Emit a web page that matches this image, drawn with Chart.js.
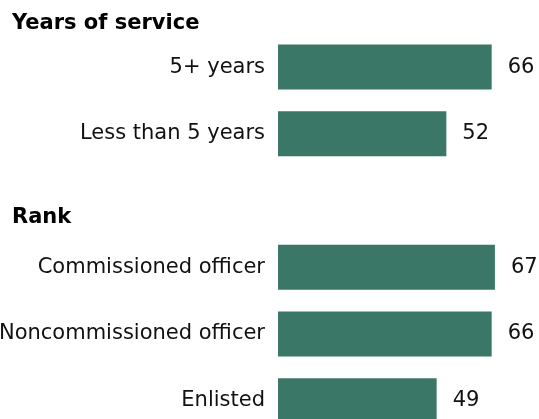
<!DOCTYPE html>
<html>
<head>
<meta charset="utf-8">
<script src="https://cdn.jsdelivr.net/npm/chart.js@4.4.1/dist/chart.umd.min.js"></script>
<style>
  html, body { margin: 0; padding: 0; background: #fff; overflow: hidden; }
  #wrap { position: relative; width: 539px; height: 419px; overflow: hidden; }
  #survey { position: absolute; left: 0; top: -33px; }
</style>
</head>
<body>
<div id="wrap">
  <canvas id="survey" width="539" height="467"></canvas>
</div>
<script>
// rows of the chart, group headings sit in their own empty rows
var labels = ["Years of service", "5+ years", "Less than 5 years", "Rank", "Commissioned officer", "Noncommissioned officer", "Enlisted"];
var values = [null, 66, 52, null, 67, 66, 49];
var headings = [0, 3];

var barColor = "#3a7767";
var fontFamily = "'DejaVu Sans', Verdana, sans-serif";

// bold group headings, left aligned, sitting low in their row
var headingPlugin = {
    id: "headings",
    afterDraw: function (chart) {
        var ctx = chart.ctx;
        var yScale = chart.scales.y;
        var drop = [28.5, 22.5];
        ctx.save();
        ctx.font = "bold 21px " + fontFamily;
        ctx.fillStyle = "#000";
        ctx.textAlign = "left";
        ctx.textBaseline = "alphabetic";
        headings.forEach(function (row, k) {
            ctx.fillText(labels[row], 12, yScale.getPixelForValue(row) + drop[k]);
        });
        ctx.restore();
    }
};

// value printed just right of each bar
var valuePlugin = {
    id: "values",
    afterDatasetsDraw: function (chart) {
        var ctx = chart.ctx;
        var meta = chart.getDatasetMeta(0);
        ctx.save();
        ctx.font = "21px " + fontFamily;
        ctx.fillStyle = "#111";
        ctx.textAlign = "left";
        ctx.textBaseline = "middle";
        meta.data.forEach(function (bar, i) {
            if (values[i] === null) return;
            ctx.fillText(values[i], bar.x + 16, bar.y);
        });
        ctx.restore();
    }
};

var canvasElement = document.getElementById("survey");

var config =
{
    type : "bar",
    data :
    {
        labels: labels,
        datasets: [
            {
                label : "Total",
                data : values,
                backgroundColor : barColor,
                borderWidth : 0,
                categoryPercentage : 1,
                barPercentage : 0.675,
            },
        ],
    },
    options :
    {
        indexAxis : "y",
        responsive : false,
        animation : false,
        layout : { padding : { left : 0, right : 2, top : 0, bottom : 0 } },
        plugins :
        {
            legend : { display : false },
            tooltip : { enabled : false },
        },
        scales :
        {
            x :
            {
                display : false,
                min : 0,
                max : 80,
            },
            y :
            {
                grid : { display : false, drawTicks : false },
                border : { display : false },
                ticks :
                {
                    padding : 13,
                    color : "#111",
                    font : { family : fontFamily, size : 21 },
                    autoSkip : false,
                    callback : function (value, index) {
                        return headings.indexOf(index) >= 0 ? "" : labels[index];
                    },
                },
                afterFit : function (scale) {
                    scale.width = 278;
                    scale.paddingTop = 0;
                    scale.paddingBottom = 0;
                },
            },
        },
    },
    plugins : [headingPlugin, valuePlugin],
};

var chart = new Chart(canvasElement, config);
</script>
</body>
</html>
